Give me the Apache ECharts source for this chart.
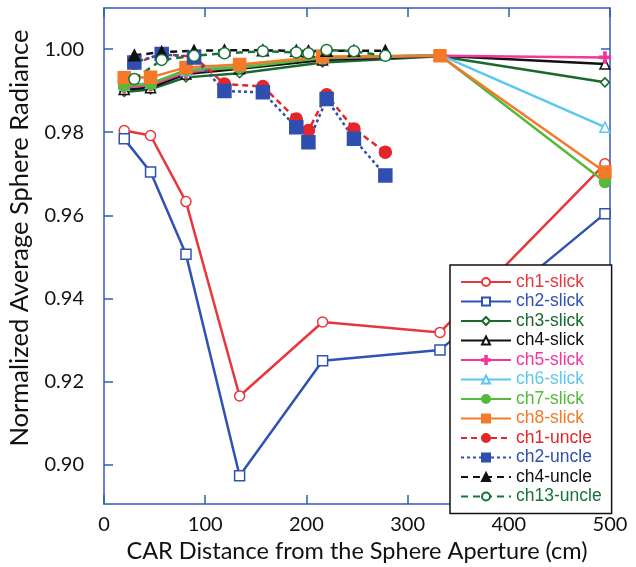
<!DOCTYPE html>
<html><head><meta charset="utf-8">
<script src="https://cdn.jsdelivr.net/npm/echarts@6/dist/echarts.min.js"></script>
<style>html,body{margin:0;padding:0;background:#fff}#c{width:636px;height:567px}</style>
</head><body><div id="c"></div>
<script>
// ---- data ----
const slickX = [20, 46, 81, 134, 216, 332, 495];
const uncleX = [30, 57, 89, 119, 157, 190, 202, 220, 247, 278];
const ch1Slick = [0.9804, 0.9792, 0.9633, 0.9165, 0.9343, 0.9318, 0.9724];
const ch2Slick = [0.9784, 0.9704, 0.9506, 0.8973, 0.9250, 0.9276, 0.9604];
const ch3Slick = [0.9897, 0.9903, 0.9932, 0.9942, 0.9968, 0.9983, 0.9920];
const ch4Slick = [0.9903, 0.9907, 0.9940, 0.9953, 0.9974, 0.9984, 0.9964];
const ch5Slick = [0.9908, 0.9913, 0.9944, 0.9958, 0.9978, 0.9984, 0.9980];
const ch6Slick = [0.9913, 0.9918, 0.9948, 0.9961, 0.9980, 0.9986, 0.9812];
const ch7Slick = [0.9912, 0.9916, 0.9950, 0.9955, 0.9979, 0.9985, 0.9680];
const ch8Slick = [0.9931, 0.9932, 0.9956, 0.9963, 0.9982, 0.9984, 0.9704];
const ch1Uncle = [0.9966, 0.9988, 0.9982, 0.9916, 0.9910, 0.9832, 0.9804, 0.9890, 0.9808, 0.9752];
const ch2Uncle = [0.9968, 0.9988, 0.9980, 0.9899, 0.9896, 0.9812, 0.9776, 0.9880, 0.9784, 0.9696];
const ch4Uncle = [0.9985, 0.9993, 0.9996, 0.9997, 0.9997, 0.9996, 0.9995, 0.9996, 0.9996, 0.9996];
const ch13Uncle = [0.9928, 0.9974, 0.9984, 0.9990, 0.9995, 0.9992, 0.9990, 0.9998, 0.9995, 0.9984];
const yTicks = [0.90, 0.92, 0.94, 0.96, 0.98, 1.00];
const xTicks = [0, 100, 200, 300, 400, 500];
const xTitle = 'CAR Distance from the Sphere Aperture (cm)';
const yTitle = 'Normalized Average Sphere Radiance';

const pair = (xs, ys) => xs.map((x, i) => [x, ys[i]]);
const axisBlue = '#3457b8';
const F = 'Lato, "Open Sans", sans-serif';

function S(name, xs, ys, color, symbol, size, filled, type, width) {
  return {
    name, type: 'line', data: pair(xs, ys), symbol, symbolSize: size,
    showSymbol: true, clip: false,
    lineStyle: { color, width: width || 2.5, type: type || 'solid' },
    itemStyle: { color: filled ? color : '#fff', borderColor: color, borderWidth: 1.5 },
    emphasis: { disabled: true }
  };
}

const series = [
  S('ch1-slick', slickX, ch1Slick, '#e8373c', 'circle', 10, false),
  S('ch2-slick', slickX, ch2Slick, '#2f52b3', 'rect', 10, false),
  S('ch3-slick', slickX, ch3Slick, '#186a2c', 'diamond', 9, false),
  S('ch4-slick', slickX, ch4Slick, '#111111', 'triangle', 10, false),
  S('ch5-slick', slickX, ch5Slick, '#f1389a', 'path://M4,0 L6,0 L6,4 L10,4 L10,6 L6,6 L6,10 L4,10 L4,6 L0,6 L0,4 L4,4 Z', 11, true),
  S('ch6-slick', slickX, ch6Slick, '#5cc8ee', 'triangle', 10, false),
  S('ch7-slick', slickX, ch7Slick, '#55b93a', 'circle', 11, true),
  S('ch8-slick', slickX, ch8Slick, '#f47a2a', 'rect', 12, true),
  S('ch1-uncle', uncleX, ch1Uncle, '#e4262c', 'circle', 12, true, [6, 4]),
  S('ch2-uncle', uncleX, ch2Uncle, '#2f4fb0', 'rect', 13, true, [3, 3]),
  S('ch4-uncle', uncleX, ch4Uncle, '#111111', 'triangle', 11, true, [7, 5]),
  S('ch13-uncle', uncleX, ch13Uncle, '#17733a', 'circle', 11, false, [7, 5])
];

const chart = echarts.init(document.getElementById('c'), null, { renderer: 'canvas' });
const xBase = {
  type: 'value', min: 0, max: 500, interval: 100,
  axisLine: { show: true, onZero: false, lineStyle: { color: axisBlue, width: 1.5 } },
  axisTick: { show: true, inside: true, length: 9, lineStyle: { color: axisBlue, width: 1.5 } },
  splitLine: { show: false }
};
const yBase = {
  type: 'value', min: 0.8905, max: 1.0099,
  axisLine: { show: true, onZero: false, lineStyle: { color: axisBlue, width: 1.5 } },
  axisTick: { show: true, inside: true, length: 9, customValues: yTicks, lineStyle: { color: axisBlue, width: 1.5 } },
  splitLine: { show: false }
};
chart.setOption({
  animation: false,
  backgroundColor: '#fff',
  grid: { left: 104, right: 26, top: 8, bottom: 63, containLabel: false },
  xAxis: [
    Object.assign({}, xBase, {
      position: 'bottom',
      axisLabel: { show: true, margin: 11, fontFamily: F, fontSize: 20, color: '#111',
        customValues: xTicks, formatter: v => String(v) }
    }),
    Object.assign({}, xBase, { position: 'top', axisLabel: { show: false } })
  ],
  yAxis: [
    Object.assign({}, yBase, {
      position: 'left',
      axisLabel: { show: true, margin: 20, fontFamily: F, fontSize: 20, color: '#111',
        customValues: yTicks, formatter: v => v.toFixed(2) }
    }),
    Object.assign({}, yBase, { position: 'right', axisLabel: { show: false } })
  ],
  graphic: [
    { type: 'text', x: 357, y: 551, style: { text: xTitle, fontFamily: F, fontSize: 23.5, fill: '#111', align: 'center', verticalAlign: 'middle' } },
    { type: 'text', x: 20, y: 238, rotation: Math.PI / 2, style: { text: yTitle, fontFamily: F, fontSize: 25.5, fill: '#111', align: 'center', verticalAlign: 'middle' } }
  ],
  legend: {
    orient: 'vertical', left: 450, top: 265,
    padding: [8, 10, 8, 10], itemGap: 1.5, itemWidth: 50, itemHeight: 10,
    backgroundColor: '#fff', borderColor: '#111', borderWidth: 1.5,
    textStyle: { fontFamily: '"Liberation Sans", Arial, sans-serif', fontSize: 17.5, lineHeight: 17, padding: [0, 0, 0, 0] },
    data: series.map(s => ({ name: s.name, textStyle: { color: s.lineStyle.color } })),
    selectedMode: false
  },
  series
});
</script></body></html>
